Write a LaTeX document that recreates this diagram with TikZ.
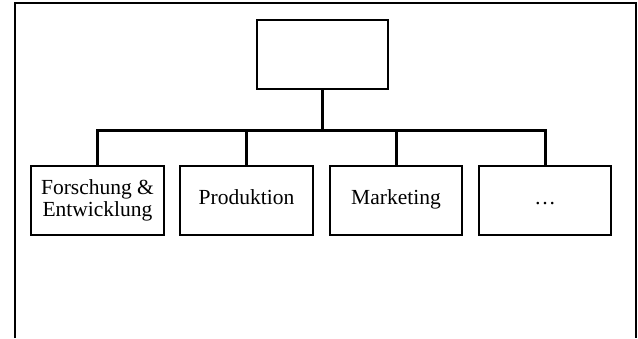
\documentclass[tikz,border=0pt]{standalone}
\usepackage{fontspec}
\setmainfont{Liberation Serif}
\begin{document}
\begin{tikzpicture}[x=1pt,y=-1pt,
  unit/.style={draw,line width=1.5pt,inner sep=0pt,align=center,
    minimum width=132pt,minimum height=69pt,
    font=\fontsize{21.5}{22}\selectfont},
  conn/.style={line width=3pt},
  frame/.style={line width=1.5pt}]
\useasboundingbox (0,0) rectangle (638,338);
\draw[frame] (15,338) -- (15,3) -- (636,3) -- (636,338);
\node[unit,minimum width=131pt] (top) at (322.5,54.5) {};
\node[unit,minimum width=133pt] (c1) at (97.5,200.5) {Forschung \&\\Entwicklung};
\node[unit,minimum width=133pt] (c2) at (246.5,200.5) {\strut Produktion};
\node[unit] (c3) at (396,200.5) {\strut Marketing};
\node[unit] (c4) at (545,200.5) {\strut\dots};
\coordinate (bar) at (322.5,130);
\draw[conn] (top.south) -- (top.south |- bar);
\draw[conn] (c1.north) -- (c1.north |- bar) -- (c4.north |- bar) -- (c4.north);
\draw[conn] (c2.north) -- (c2.north |- bar);
\draw[conn] (c3.north) -- (c3.north |- bar);
\end{tikzpicture}
\end{document}
